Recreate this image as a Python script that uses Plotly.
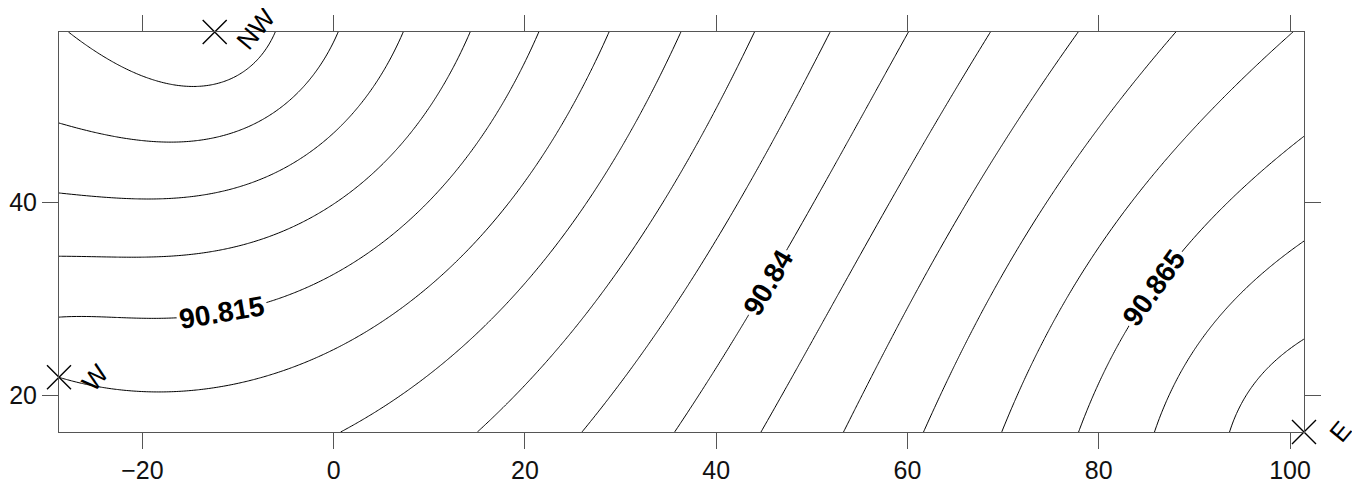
import numpy as np
import plotly.graph_objects as go

# ---- station data ----
station_names = ["NW", "W", "E"]
station_x = [-12.44, -28.72, 101.46]
station_y = [57.65, 21.87, 16.2]
station_z = [90.79, 90.82, 90.88]

# contour levels and labelled levels
level_start, level_end, level_step = 90.795, 90.875, 0.005
label_levels = [90.815, 90.84, 90.865]
label_fix = [("x", -11.65), ("y", 31.64), ("y", 31.17)]
x_ticks = [-20, 0, 20, 40, 60, 80, 100]
y_ticks = [20, 40]

# ---- ordinary kriging, linear variogram (gridding of the three stations) ----
SX = np.array(station_x)
SY = np.array(station_y)
SZ = np.array(station_z)
D = np.hypot(SX[:, None] - SX[None, :], SY[:, None] - SY[None, :])
A = np.zeros((4, 4))
A[:3, :3] = D
A[:3, 3] = 1
A[3, :3] = 1
Ainv = np.linalg.inv(A)


def krige(px, py):
    px = np.asarray(px, float).ravel()
    py = np.asarray(py, float).ravel()
    b = np.vstack([np.hypot(px - SX[i], py - SY[i]) for i in range(3)] + [np.ones_like(px)])
    return SZ @ (Ainv @ b)[:3]


xmin, xmax = min(station_x), max(station_x)
ymin, ymax = min(station_y), max(station_y)
gx = np.linspace(xmin, xmax, 500)
gy = np.linspace(ymin, ymax, 200)
GX, GY = np.meshgrid(gx, gy)
Z = krige(GX, GY).reshape(GX.shape)

fig = go.Figure()
fig.add_trace(go.Contour(
    x=gx, y=gy, z=Z,
    contours=dict(start=level_start, end=level_end, size=level_step, coloring="lines", showlabels=False),
    colorscale=[[0, "black"], [1, "black"]],
    line=dict(width=1, color="black"),
    showscale=False, hoverinfo="skip",
))

fig.add_trace(go.Scatter(
    x=station_x, y=station_y, mode="markers",
    marker=dict(symbol="x-thin", size=24, line=dict(width=1.4, color="black"), color="black"),
    cliponaxis=False, showlegend=False, hoverinfo="skip",
))

# page body has an 8px default margin: shrink the figure accordingly
OFF = 8
Wd, Ht = 1360 - OFF, 486 - OFF
L, R, T, B = 59 - OFF, 56, 32 - OFF, 54
sx = (Wd - L - R) / (xmax - xmin)
sy = (Ht - T - B) / (ymax - ymin)

ann = []
shifts = {"NW": (41, 3), "W": (36, -1), "E": (36, 0)}
for name, x, y in zip(station_names, station_x, station_y):
    dx, dy = shifts[name]
    ann.append(dict(x=x, y=y, text=name, showarrow=False, textangle=-50,
                    xshift=dx, yshift=dy,
                    font=dict(family="Liberation Sans, Arial", size=26, color="black")))

for lev, (ax, val) in zip(label_levels, label_fix):
    t = np.linspace(0, 1, 2001)
    if ax == "x":
        xs = np.full_like(t, val)
        ys = ymin + t * (ymax - ymin)
    else:
        ys = np.full_like(t, val)
        xs = xmin + t * (xmax - xmin)
    zz = krige(xs, ys)
    idx = np.where(np.diff(np.sign(zz - lev)) != 0)[0]
    if len(idx) == 0:
        continue
    i = idx[0]
    f = (lev - zz[i]) / (zz[i + 1] - zz[i])
    lx = xs[i] + f * (xs[i + 1] - xs[i])
    ly = ys[i] + f * (ys[i + 1] - ys[i])
    h = 0.01
    gxv = (krige([lx + h], [ly])[0] - krige([lx - h], [ly])[0]) / (2 * h)
    gyv = (krige([lx], [ly + h])[0] - krige([lx], [ly - h])[0]) / (2 * h)
    tx, ty = -gyv * sx, -gxv * sy  # tangent in screen coords (y down)
    ang = np.degrees(np.arctan2(ty, tx))
    if ang > 90:
        ang -= 180
    if ang <= -90:
        ang += 180
    ann.append(dict(x=lx, y=ly, text=f"{lev:g}", showarrow=False, textangle=float(ang),
                    bgcolor="white", borderpad=2,
                    font=dict(family="Liberation Sans, Arial", size=28, color="black", weight="bold")))

axis_common = dict(showline=True, linecolor="#555555", linewidth=1, mirror="ticks",
                   ticks="outside", ticklen=16, tickcolor="#555555", tickwidth=1,
                   showgrid=False, zeroline=False, automargin=False,
                   tickfont=dict(family="Liberation Sans, Arial", size=25, color="#111111"))
fig.update_layout(
    width=Wd, height=Ht, margin=dict(l=L, r=R, t=T, b=B, autoexpand=False),
    plot_bgcolor="white", paper_bgcolor="white", showlegend=False,
    xaxis=dict(range=[xmin, xmax], tickvals=x_ticks, **axis_common),
    yaxis=dict(range=[ymin, ymax], tickvals=y_ticks, **axis_common),
    annotations=ann,
)
fig.write_html("out.html")
